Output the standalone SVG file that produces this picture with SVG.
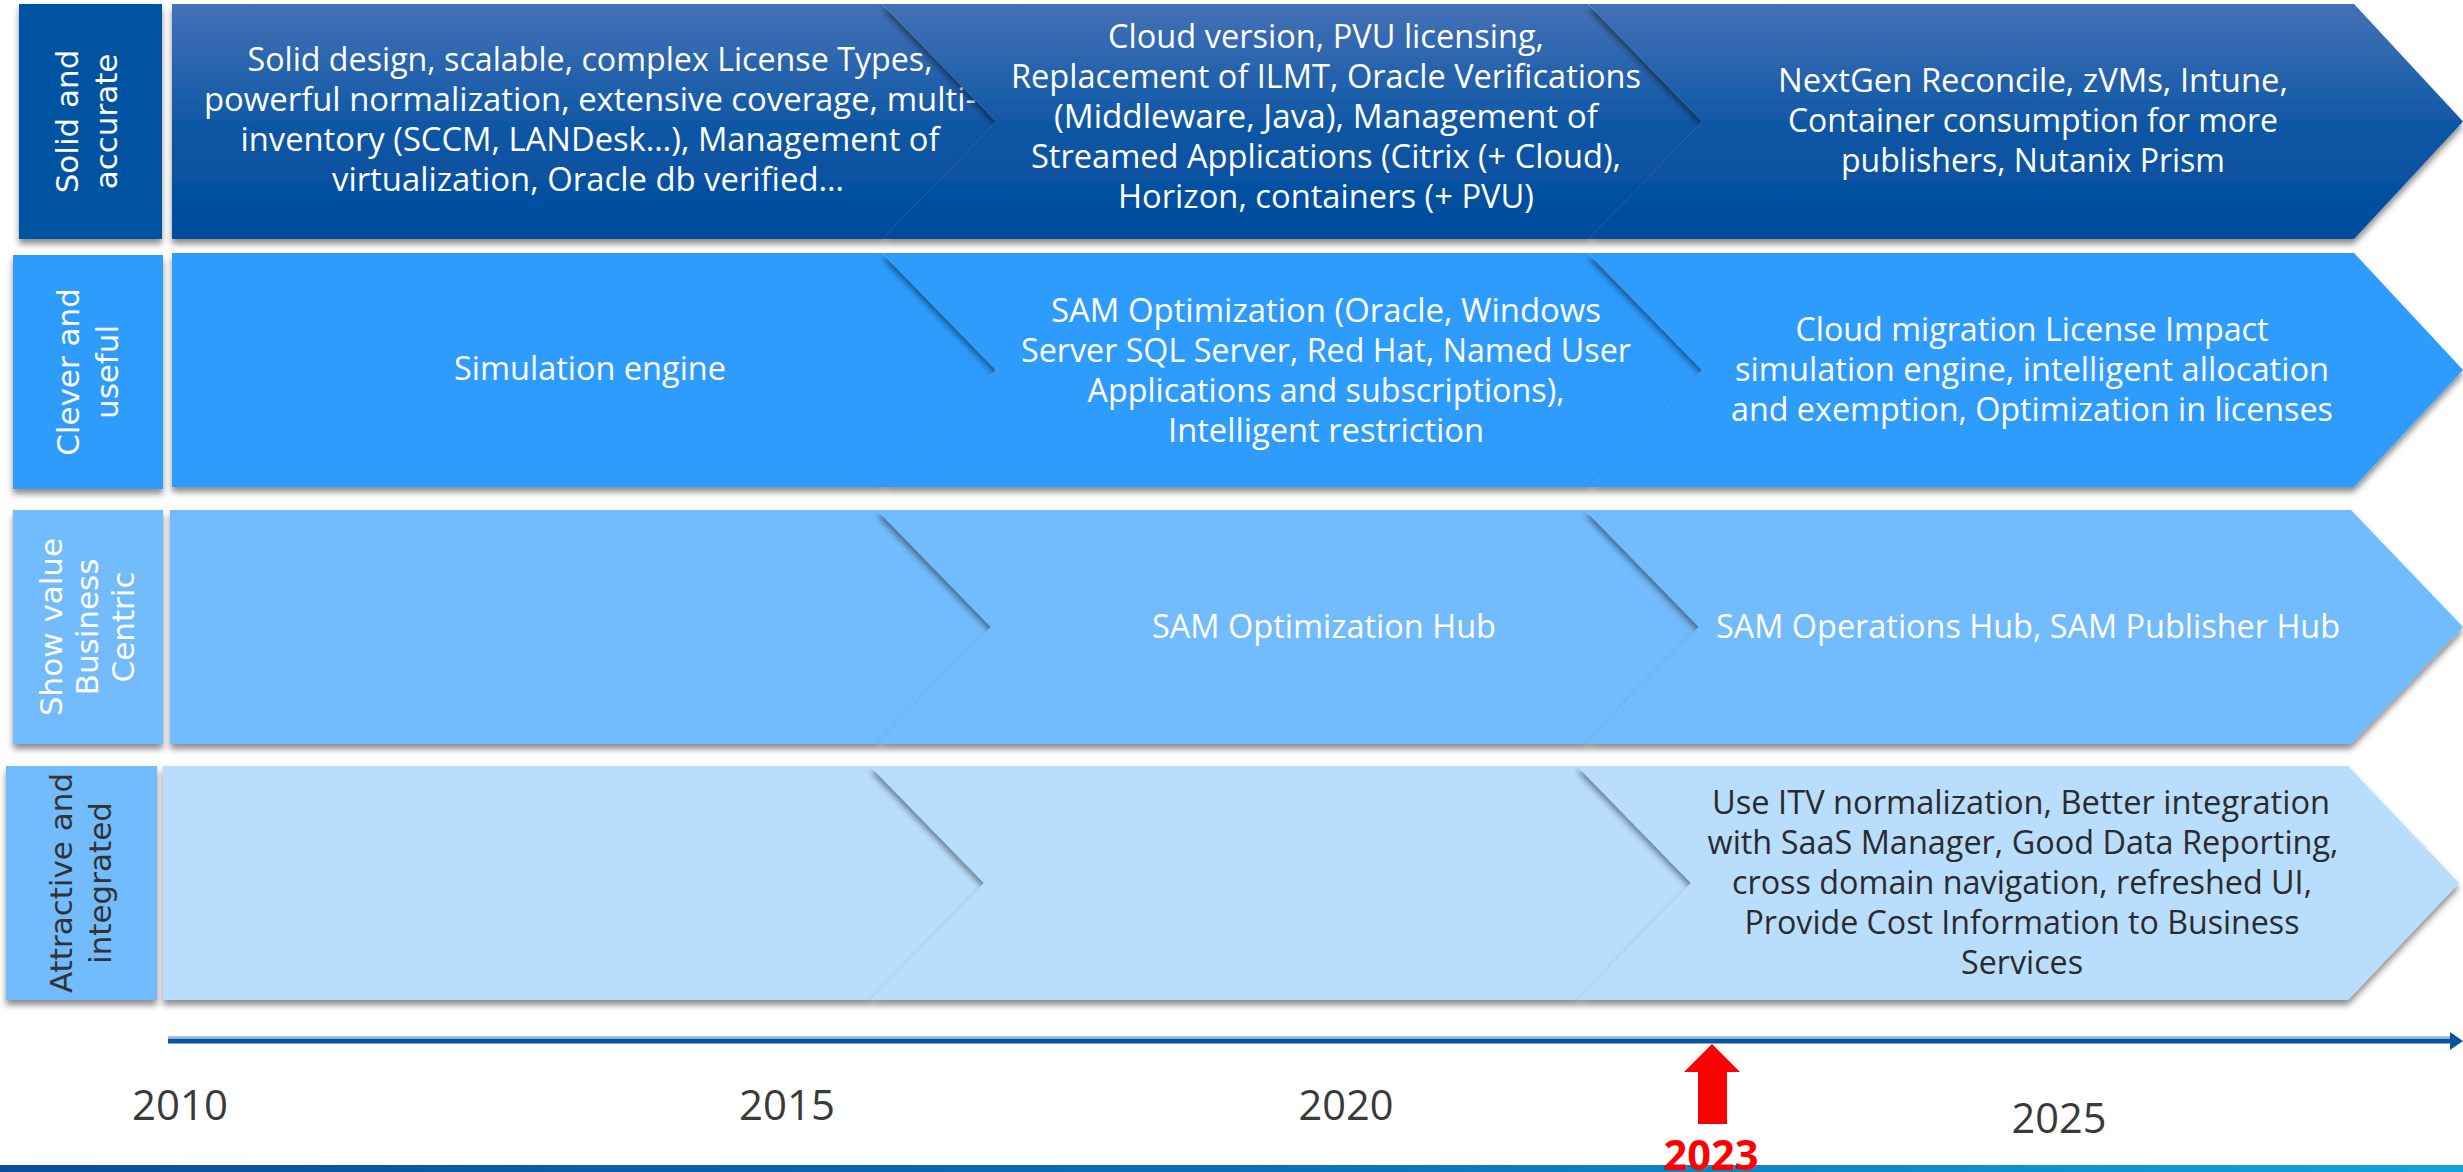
<svg xmlns="http://www.w3.org/2000/svg" width="2463" height="1172" viewBox="0 0 2463 1172">
<defs>
<style>
.t{font-family:"Open Sans","Noto Sans","Liberation Sans",sans-serif;font-size:33px;fill:#ffffff;text-anchor:middle}
.td{fill:#2b2b2b}
.lb{font-family:"DejaVu Sans","Liberation Sans",sans-serif;font-size:31px;fill:#ffffff;text-anchor:middle}
.lbd{fill:#333333}
.yr{font-family:"Open Sans","Noto Sans","Liberation Sans",sans-serif;font-size:42px;fill:#3a3a3a;text-anchor:middle}
.r1{fill:url(#g1)}
.r2{fill:#2e9cfd}
.r3{fill:#72bbfc}
.r4{fill:#b9ddfd}
.l1{fill:#0352a1}
</style>
<linearGradient id="g1" x1="0" y1="0" x2="0" y2="1">
<stop offset="0" stop-color="#4471b6"/>
<stop offset="0.55" stop-color="#0c56a4"/>
<stop offset="1" stop-color="#004c9d"/>
</linearGradient>
<linearGradient id="gb" x1="0" y1="0" x2="1" y2="0">
<stop offset="0" stop-color="#0a4e9a"/>
<stop offset="0.5" stop-color="#0b6fb8"/>
<stop offset="1" stop-color="#12a3dc"/>
</linearGradient>
<filter id="sh" x="-5%" y="-10%" width="115%" height="135%">
<feDropShadow dx="0" dy="5" stdDeviation="3" flood-color="#000" flood-opacity="0.45"/>
</filter>
</defs>
<rect width="2463" height="1172" fill="#ffffff"/>

<!-- Row 1 -->
<g id="label-solid">
<rect class="l1" x="19" y="4" width="143" height="235" filter="url(#sh)"/>
<text class="lb" transform="translate(78,121.5) rotate(-90)">Solid and</text>
<text class="lb" transform="translate(117,121.5) rotate(-90)">accurate</text>
</g>
<g id="r1-c1">
<path class="r1" d="M172,4 L882,4 L996,121.5 L882,239 L172,239 Z" filter="url(#sh)"/>
<text class="t" x="590" y="71" textLength="685" lengthAdjust="spacingAndGlyphs">Solid design, scalable, complex License Types,</text>
<text class="t" x="590" y="111" textLength="772" lengthAdjust="spacingAndGlyphs">powerful normalization, extensive coverage, multi-</text>
<text class="t" x="590" y="151" textLength="699" lengthAdjust="spacingAndGlyphs">inventory (SCCM, LANDesk…), Management of</text>
<text class="t" x="588" y="191" textLength="512" lengthAdjust="spacingAndGlyphs">virtualization, Oracle db verified…</text>
</g>
<g id="r1-c2">
<path class="r1" d="M882,4 L1588,4 L1702,121.5 L1588,239 L882,239 L996,121.5 Z" filter="url(#sh)"/>
<text class="t" x="1326" y="48" textLength="436" lengthAdjust="spacingAndGlyphs">Cloud version, PVU licensing,</text>
<text class="t" x="1326" y="88" textLength="630" lengthAdjust="spacingAndGlyphs">Replacement of ILMT, Oracle Verifications</text>
<text class="t" x="1326" y="128" textLength="544" lengthAdjust="spacingAndGlyphs">(Middleware, Java), Management of</text>
<text class="t" x="1326" y="168" textLength="590" lengthAdjust="spacingAndGlyphs">Streamed Applications (Citrix (+ Cloud),</text>
<text class="t" x="1326" y="208" textLength="416" lengthAdjust="spacingAndGlyphs">Horizon, containers (+ PVU)</text>
</g>
<g id="r1-c3">
<path class="r1" d="M1588,4 L2354,4 L2463,121.5 L2354,239 L1588,239 L1702,121.5 Z" filter="url(#sh)"/>
<text class="t" x="2033" y="92" textLength="510" lengthAdjust="spacingAndGlyphs">NextGen Reconcile, zVMs, Intune,</text>
<text class="t" x="2033" y="132" textLength="490" lengthAdjust="spacingAndGlyphs">Container consumption for more</text>
<text class="t" x="2033" y="172" textLength="384" lengthAdjust="spacingAndGlyphs">publishers, Nutanix Prism</text>
</g>

<!-- Row 2 -->
<g id="label-clever">
<rect class="r2" x="13" y="255" width="150" height="234" filter="url(#sh)"/>
<text class="lb" transform="translate(79,372) rotate(-90)">Clever and</text>
<text class="lb" transform="translate(118,372) rotate(-90)">useful</text>
</g>
<g id="r2-c1">
<path class="r2" d="M172,253 L882,253 L996,370 L882,487 L172,487 Z" filter="url(#sh)"/>
<text class="t" x="590" y="380" textLength="272" lengthAdjust="spacingAndGlyphs">Simulation engine</text>
</g>
<g id="r2-c2">
<path class="r2" d="M882,253 L1588,253 L1702,370 L1588,487 L882,487 L996,370 Z" filter="url(#sh)"/>
<text class="t" x="1326" y="322" textLength="550" lengthAdjust="spacingAndGlyphs">SAM Optimization (Oracle, Windows</text>
<text class="t" x="1326" y="362" textLength="610" lengthAdjust="spacingAndGlyphs">Server SQL Server, Red Hat, Named User</text>
<text class="t" x="1326" y="402" textLength="477" lengthAdjust="spacingAndGlyphs">Applications and subscriptions),</text>
<text class="t" x="1326" y="442" textLength="316" lengthAdjust="spacingAndGlyphs">Intelligent restriction</text>
</g>
<g id="r2-c3">
<path class="r2" d="M1588,253 L2354,253 L2463,370 L2354,487 L1588,487 L1702,370 Z" filter="url(#sh)"/>
<text class="t" x="2032" y="341" textLength="473" lengthAdjust="spacingAndGlyphs">Cloud migration License Impact</text>
<text class="t" x="2032" y="381" textLength="594" lengthAdjust="spacingAndGlyphs">simulation engine, intelligent allocation</text>
<text class="t" x="2032" y="421" textLength="602" lengthAdjust="spacingAndGlyphs">and exemption, Optimization in licenses</text>
</g>

<!-- Row 3 -->
<g id="label-show">
<rect class="r3" x="13" y="510" width="150" height="234" filter="url(#sh)"/>
<text class="lb" transform="translate(62,627) rotate(-90)">Show value</text>
<text class="lb" transform="translate(98,627) rotate(-90)">Business</text>
<text class="lb" transform="translate(134,627) rotate(-90)">Centric</text>
</g>
<g id="r3-c1">
<path class="r3" d="M170,510 L877,510 L991,627 L877,744 L170,744 Z" filter="url(#sh)"/>
</g>
<g id="r3-c2">
<path class="r3" d="M877,510 L1585,510 L1699,627 L1585,744 L877,744 L991,627 Z" filter="url(#sh)"/>
<text class="t" x="1324" y="638" textLength="344" lengthAdjust="spacingAndGlyphs">SAM Optimization Hub</text>
</g>
<g id="r3-c3">
<path class="r3" d="M1585,510 L2351,510 L2463,627 L2351,744 L1585,744 L1699,627 Z" filter="url(#sh)"/>
<text class="t" x="2028" y="638" textLength="624" lengthAdjust="spacingAndGlyphs">SAM Operations Hub, SAM Publisher Hub</text>
</g>

<!-- Row 4 -->
<g id="label-attractive">
<rect class="r3" x="6" y="766" width="151" height="234" filter="url(#sh)"/>
<text class="lb lbd" transform="translate(72,883) rotate(-90)">Attractive and</text>
<text class="lb lbd" transform="translate(111,883) rotate(-90)">integrated</text>
</g>
<g id="r4-c1">
<path class="r4" d="M163,766 L870,766 L984,883 L870,1000 L163,1000 Z" filter="url(#sh)"/>
</g>
<g id="r4-c2">
<path class="r4" d="M870,766 L1577,766 L1691,883 L1577,1000 L870,1000 L984,883 Z" filter="url(#sh)"/>
</g>
<g id="r4-c3">
<path class="r4" d="M1577,766 L2348,766 L2459,883 L2348,1000 L1577,1000 L1691,883 Z" filter="url(#sh)"/>
<text class="t td" x="2021" y="814" textLength="618" lengthAdjust="spacingAndGlyphs">Use ITV normalization, Better integration</text>
<text class="t td" x="2023" y="854" textLength="631" lengthAdjust="spacingAndGlyphs">with SaaS Manager, Good Data Reporting,</text>
<text class="t td" x="2022" y="894" textLength="580" lengthAdjust="spacingAndGlyphs">cross domain navigation, refreshed UI,</text>
<text class="t td" x="2022" y="934" textLength="555" lengthAdjust="spacingAndGlyphs">Provide Cost Information to Business</text>
<text class="t td" x="2022" y="974" textLength="122" lengthAdjust="spacingAndGlyphs">Services</text>
</g>

<!-- Timeline axis -->
<g id="connectors">
<line x1="168" y1="1037" x2="2452" y2="1037" stroke="#9cc2e6" stroke-width="2"/>
<line x1="168" y1="1041" x2="2452" y2="1041" stroke="#0a55a0" stroke-width="5"/>
<path d="M2450,1032 L2463,1041 L2450,1050 Z" fill="#0a55a0"/>
</g>

<g id="years">
<text class="yr" x="180" y="1120" textLength="96" lengthAdjust="spacingAndGlyphs">2010</text>
<text class="yr" x="787" y="1120" textLength="96" lengthAdjust="spacingAndGlyphs">2015</text>
<text class="yr" x="1346" y="1120" textLength="95" lengthAdjust="spacingAndGlyphs">2020</text>
<text class="yr" x="2059" y="1133" textLength="95" lengthAdjust="spacingAndGlyphs">2025</text>
</g>

<rect id="bottom-bar" x="0" y="1165" width="2463" height="7" fill="url(#gb)"/>

<g id="now-2023">
<path d="M1712,1044 L1740,1072 L1727,1072 L1727,1124 L1698,1124 L1698,1072 L1684,1072 Z" fill="#ff0000"/>
<text x="1711" y="1170" font-family="'Open Sans','Noto Sans','Liberation Sans',sans-serif" font-weight="bold" font-size="42" fill="#ff0000" text-anchor="middle" textLength="95" lengthAdjust="spacingAndGlyphs">2023</text>
</g>
</svg>
